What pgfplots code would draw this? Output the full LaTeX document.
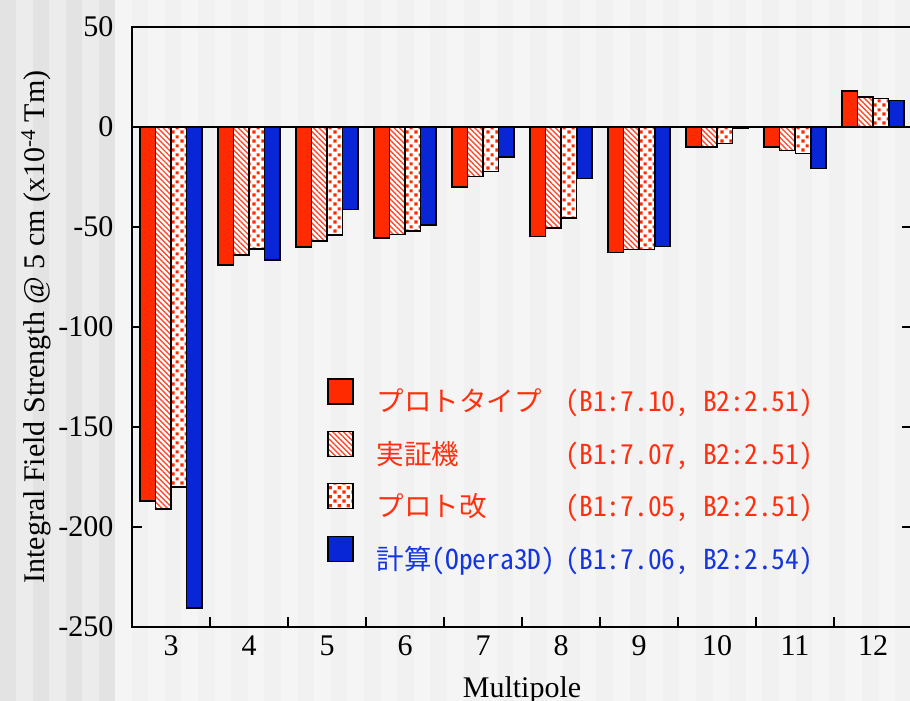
\documentclass[border=0pt]{standalone}
\usepackage{fontspec}
\setmainfont{Liberation Serif}
\newfontfamily\jp[RawFeature=+hwid]{Noto Sans CJK JP}
\usepackage{pgfplots}
\pgfplotsset{compat=1.18}
\usetikzlibrary{patterns.meta}

\definecolor{protored}{HTML}{FF2A00}
\definecolor{hatchred}{HTML}{FF4A30}
\definecolor{dotred}{HTML}{FF2A00}
\definecolor{operablue}{HTML}{0826D6}
\definecolor{legred}{HTML}{FF3010}
\definecolor{legblue}{HTML}{1436E0}
\definecolor{bgdarkA}{HTML}{E3E3E3}
\definecolor{bgdarkB}{HTML}{ECECEC}
\definecolor{bglightA}{HTML}{F5F5F5}
\definecolor{bglightB}{HTML}{F1F1F1}

% staggered square dots
\pgfdeclarepattern{
  name=SquareDots,
  type=uncolored,
  bottom left={\pgfpoint{0pt}{0pt}},
  top right={\pgfpoint{9pt}{9pt}},
  tile size={\pgfpoint{9pt}{9pt}},
  code={
    \pgfpathrectangle{\pgfpoint{0.5pt}{0.5pt}}{\pgfpoint{3.4pt}{3.4pt}}
    \pgfpathrectangle{\pgfpoint{5pt}{5pt}}{\pgfpoint{3.4pt}{3.4pt}}
    \pgfusepath{fill}
  }
}

\begin{document}
\begin{tikzpicture}[x=1pt,y=1pt]
% striped backdrop
\fill[bgdarkA] (0,0) rectangle (115,701);
\foreach \i in {1,3,5} \fill[bgdarkB] ({\i*115/7},0) rectangle ({(\i+1)*115/7},701);
\fill[bglightA] (115,0) rectangle (910,701);
\foreach \i in {1,3,...,47} \fill[bglightB] ({115+\i*16.6},0) rectangle ({115+(\i+1)*16.6},701);

\begin{axis}[
  at={(132pt,74pt)}, anchor=south west,
  width=780pt, height=600pt, scale only axis,
  xmin=2.5, xmax=12.5, ymin=-250, ymax=50,
  ybar, bar width=0.195,
  every axis plot/.append style={
    legend image code/.code={\draw[##1] (0pt,-3pt) rectangle (25pt,22pt);}},
  axis line style={line width=1.5pt},
  font=\fontsize{30}{34}\selectfont,
  xtick={2.5,3.5,...,12.5},
  x tick label as interval,
  xticklabels={3,4,5,6,7,8,9,10,11,12},
  xtick pos=bottom,
  ytick={-250,-200,-150,-100,-50,0,50},
  yticklabels={-250,-200,-150,-100,-50,0,50},
  ytick pos=both,
  tick align=inside,
  major tick length=10pt,
  tick style={black, line width=1.2pt},
  xticklabel style={yshift=-5pt},
  yticklabel style={xshift=-15pt},
  extra y ticks={0},
  extra y tick labels={},
  extra y tick style={grid=major, major grid style={black, line width=1.3pt}},
  xlabel={Multipole},
  ylabel={Integral Field Strength @ 5 cm (x10\textsuperscript{-4} Tm)},
  xlabel style={at={(axis description cs:0.5,-0.1167)}, anchor=base},
  ylabel style={at={(axis description cs:-0.123,0.5)}, anchor=center},
  legend cell align=left,
  legend style={at={(axis description cs:0.25,0.415)}, anchor=north west,
    draw=none, fill=none, inner sep=0pt, row sep=17.5pt, column sep=23pt,
    nodes={inner sep=0pt},
    font=\jp\fontsize{27.5}{32}\selectfont},
]
% prototype
\addplot[draw=black, line width=1.4pt, fill=protored, bar shift=-0.3]
  coordinates {(3,-187) (4,-69) (5,-60) (6,-55.5) (7,-30) (8,-54.7) (9,-62.8) (10,-10) (11,-10) (12,18)};
\addlegendentry{\textcolor{legred}{\makebox[189pt][l]{プロトタイプ}(B1:7.10, B2:2.51)}}
% demonstration machine
\addplot[draw=black, line width=1.4pt, preaction={fill=white},
  pattern={Lines[angle=-45,distance=3.8pt,line width=1.4pt]}, pattern color=hatchred, bar shift=-0.1]
  coordinates {(3,-191) (4,-64) (5,-57) (6,-53.7) (7,-24.8) (8,-50.5) (9,-61.2) (10,-10) (11,-11.7) (12,15)};
\addlegendentry{\textcolor{legred}{\makebox[189pt][l]{実証機}(B1:7.07, B2:2.51)}}
% revised prototype
\addplot[draw=black, line width=1.4pt, preaction={fill=white},
  pattern=SquareDots, pattern color=dotred, bar shift=0.1]
  coordinates {(3,-180) (4,-61) (5,-54) (6,-52) (7,-22.3) (8,-45.5) (9,-61.2) (10,-8.3) (11,-13.3) (12,14.2)};
\addlegendentry{\textcolor{legred}{\makebox[189pt][l]{プロト改}(B1:7.05, B2:2.51)}}
% Opera3D calculation
\addplot[draw=black, line width=1.4pt, fill=operablue, bar shift=0.3]
  coordinates {(3,-240.5) (4,-66.5) (5,-41.3) (6,-49) (7,-15) (8,-25.7) (9,-59.7) (10,-0.9) (11,-20.8) (12,13.2)};
\addlegendentry{\textcolor{legblue}{\makebox[189pt][l]{計算(Opera3D)}(B1:7.06, B2:2.54)}}
\end{axis}
\pgfresetboundingbox
\useasboundingbox (0,0) rectangle (910,701);
\end{tikzpicture}
\end{document}
